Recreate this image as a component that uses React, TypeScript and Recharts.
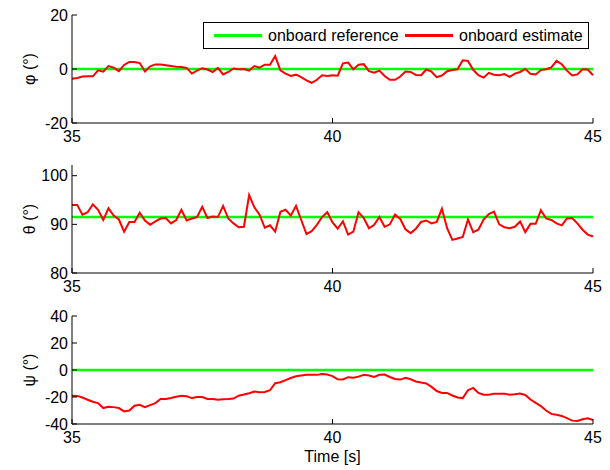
import { LineChart, Line, XAxis, YAxis, Legend } from "recharts";

// time stamps [s]
const time = [
  35.0, 35.1, 35.2, 35.3, 35.4, 35.5, 35.6, 35.7, 35.8, 35.9,
  36.0, 36.1, 36.2, 36.3, 36.4, 36.5, 36.6, 36.7, 36.8, 36.9,
  37.0, 37.1, 37.2, 37.3, 37.4, 37.5, 37.6, 37.7, 37.8, 37.9,
  38.0, 38.1, 38.2, 38.3, 38.4, 38.5, 38.6, 38.7, 38.8, 38.9,
  39.0, 39.1, 39.2, 39.3, 39.4, 39.5, 39.6, 39.7, 39.8, 39.9,
  40.0, 40.1, 40.2, 40.3, 40.4, 40.5, 40.6, 40.7, 40.8, 40.9,
  41.0, 41.1, 41.2, 41.3, 41.4, 41.5, 41.6, 41.7, 41.8, 41.9,
  42.0, 42.1, 42.2, 42.3, 42.4, 42.5, 42.6, 42.7, 42.8, 42.9,
  43.0, 43.1, 43.2, 43.3, 43.4, 43.5, 43.6, 43.7, 43.8, 43.9,
  44.0, 44.1, 44.2, 44.3, 44.4, 44.5, 44.6, 44.7, 44.8, 44.9,
  45.0,
];

// onboard estimates [deg]
const phiEstimate = [
  -3.6, -3.3, -2.8, -2.7, -2.7, -0.5, -1.0, 1.1, 0.5, -0.8,
  1.5, 2.6, 2.6, 2.2, -0.9, 1.0, 1.7, 1.7, 1.4, 1.1,
  0.8, 0.7, 0.4, -1.7, -0.6, 0.3, -0.2, -1.1, 0.4, -2.0,
  -1.1, 0.2, -0.1, 0.0, -0.6, 1.1, 0.5, 1.6, 1.6, 4.8,
  -0.5, -1.7, -2.6, -2.1, -3.0, -4.2, -5.1, -4.0, -2.3, -2.6,
  -2.3, -2.5, 2.1, 2.4, -0.1, 1.6, 1.8, -0.8, -1.4, -0.6,
  -2.6, -4.0, -4.0, -2.8, -0.9, -1.1, -2.2, -2.3, -0.2, -1.0,
  -3.0, -2.4, -0.8, -0.4, -0.1, 3.2, 3.0, -0.3, -2.3, -3.2,
  -1.4, -2.1, -2.3, -1.9, -2.9, -1.7, -1.1, 0.0, -1.8, -2.0,
  -0.4, -0.1, 0.6, 3.0, 1.8, -0.6, -2.4, -2.0, -0.1, -0.2,
  -2.3,
];

const thetaEstimate = [
  94.0, 94.0, 92.0, 92.5, 94.1, 93.0, 90.9, 93.3, 91.8, 91.0,
  88.5, 90.5, 90.5, 92.4, 90.8, 89.9, 90.6, 91.2, 91.3, 90.2,
  90.9, 93.0, 90.8, 91.2, 91.5, 93.6, 91.3, 91.6, 91.5, 93.8,
  91.2, 90.2, 89.4, 89.5, 96.0, 93.5, 92.0, 89.3, 89.8, 88.5,
  92.6, 93.0, 91.8, 93.8, 90.9, 88.0, 88.6, 89.9, 91.5, 92.5,
  90.4, 89.1, 90.6, 87.9, 88.5, 92.5, 91.3, 89.2, 89.9, 91.5,
  89.5, 90.0, 92.0, 91.1, 89.0, 88.2, 89.1, 90.5, 90.8, 90.2,
  90.5, 93.2, 89.2, 86.8, 87.1, 87.4, 91.0, 88.4, 88.9, 91.0,
  92.1, 92.6, 90.0, 89.4, 89.2, 89.5, 90.6, 88.4, 90.1, 90.1,
  92.9, 91.2, 90.9, 90.2, 89.8, 91.2, 91.3, 90.2, 88.9, 87.9,
  87.5,
];

const psiEstimate = [
  -19.0, -19.2, -20.4, -22.0, -23.5, -24.5, -28.2, -27.2, -27.5, -28.2,
  -30.7, -30.0, -26.5, -25.8, -27.5, -26.0, -24.5, -21.5, -21.5, -20.8,
  -19.8, -19.0, -19.5, -20.8, -20.0, -20.0, -21.5, -21.5, -22.0, -21.6,
  -21.5, -21.2, -19.0, -18.2, -17.2, -15.9, -16.5, -16.3, -15.0, -9.8,
  -9.1, -7.5, -5.9, -4.6, -4.1, -3.6, -3.6, -3.6, -2.9, -3.4,
  -4.5, -6.9, -7.0, -5.3, -5.8, -4.9, -3.5, -4.1, -5.1, -3.6,
  -3.4, -5.2, -6.6, -7.1, -5.8, -6.9, -8.5, -9.3, -10.0, -12.5,
  -15.6, -17.0, -17.0, -18.9, -20.4, -20.8, -15.0, -13.3, -17.0, -18.3,
  -18.3, -17.5, -17.5, -17.5, -18.3, -18.0, -17.5, -18.5, -21.9, -24.4,
  -26.7, -30.0, -32.5, -33.2, -34.0, -35.7, -37.5, -37.7, -36.5, -35.8,
  -37.0,
];

// onboard references [deg]
const phiReference = 0;
const thetaReference = 91.5;
const psiReference = 0;

const timeTicks = [35, 40, 45];
const phiTicks = [-20, 0, 20];
const thetaTicks = [80, 90, 100];
const psiTicks = [-40, -20, 0, 20, 40];

const legendItems = [
  { name: "onboard reference", color: "#00ff00" },
  { name: "onboard estimate", color: "#ff0000" },
];

const FONT = '"Liberation Sans", Arial, Helvetica, sans-serif';
const PLOT_H = 108;

function buildRows(est: number[], ref: number) {
  return time.map((t, i) => ({ t, est: est[i], ref }));
}

function LegendBox() {
  return (
    <div
      style={{
        boxSizing: "border-box",
        width: 386,
        height: 27,
        border: "1px solid #000",
        background: "#fff",
        position: "relative",
        fontFamily: FONT,
        fontSize: 16,
        color: "#000",
      }}
    >
      {legendItems.map((item, i) => (
        <div
          key={item.name}
          style={{
            position: "absolute",
            left: i === 0 ? 10 : 201,
            top: 0,
            height: 25,
            display: "flex",
            alignItems: "center",
            whiteSpace: "nowrap",
          }}
        >
          <span style={{ display: "inline-block", width: 48, height: 2.5, background: item.color }} />
          <span style={{ marginLeft: 6 }}>{item.name}</span>
        </div>
      ))}
    </div>
  );
}

type PanelProps = {
  top: number;
  height: number;
  marginTop: number;
  est: number[];
  reference: number;
  domain: [number, number];
  ticks: number[];
  yLabel: string;
  showLegend?: boolean;
  xLabel?: string;
};

function Panel({ top, height, marginTop, est, reference, domain, ticks, yLabel, showLegend, xLabel }: PanelProps) {
  const rows = buildRows(est, reference);
  const cy = marginTop + PLOT_H / 2;
  const axisH = height - marginTop - PLOT_H;
  return (
    <div style={{ position: "absolute", left: 0, top, width: 610, height }}>
      <LineChart width={610} height={height} data={rows} margin={{ top: marginTop, right: 17, bottom: 0, left: 0 }}>
        <XAxis
          dataKey="t"
          type="number"
          domain={[35, 45]}
          ticks={timeTicks}
          interval={0}
          height={axisH}
          stroke="#000"
          tickSize={-5}
          tickMargin={13}
          tick={{ fill: "#000", fontSize: 16, fontFamily: FONT }}
          label={
            xLabel
              ? { value: xLabel, position: "insideBottom", offset: 8, fill: "#000", fontSize: 16, fontFamily: FONT }
              : undefined
          }
        />
        <YAxis
          type="number"
          domain={domain}
          ticks={ticks}
          interval={0}
          width={72}
          stroke="#000"
          tickSize={-5}
          tickMargin={9}
          tick={{ fill: "#000", fontSize: 16, fontFamily: FONT }}
          label={() => (
            <text
              x={29}
              y={cy}
              transform={`rotate(-90 29 ${cy})`}
              textAnchor="middle"
              dominantBaseline="central"
              fill="#000"
              fontSize={16}
              fontFamily={FONT}
            >
              {yLabel}
            </text>
          )}
        />
        {showLegend && (
          <Legend
            layout="vertical"
            align="center"
            verticalAlign="middle"
            wrapperStyle={{ left: 203, top: 22, width: 386, height: 27 }}
            content={() => <LegendBox />}
          />
        )}
        <Line dataKey="ref" stroke="#00ff00" strokeWidth={2.5} dot={false} isAnimationActive={false} />
        <Line dataKey="est" stroke="#ff0000" strokeWidth={2} dot={false} isAnimationActive={false} />
      </LineChart>
    </div>
  );
}

export default function App() {
  return (
    <div style={{ position: "absolute", left: 0, top: 0, width: 610, height: 470, background: "#fff", fontFamily: FONT }}>
      <Panel top={0} height={150} marginTop={15} est={phiEstimate} reference={phiReference} domain={[-20, 20]} ticks={phiTicks} yLabel="φ (°)" showLegend />
      <Panel top={150} height={150} marginTop={15} est={thetaEstimate} reference={thetaReference} domain={[80, 102.2]} ticks={thetaTicks} yLabel="θ (°)" />
      <Panel top={300} height={170} marginTop={16} est={psiEstimate} reference={psiReference} domain={[-40, 40]} ticks={psiTicks} yLabel="ψ (°)" xLabel="Time [s]" />
    </div>
  );
}
